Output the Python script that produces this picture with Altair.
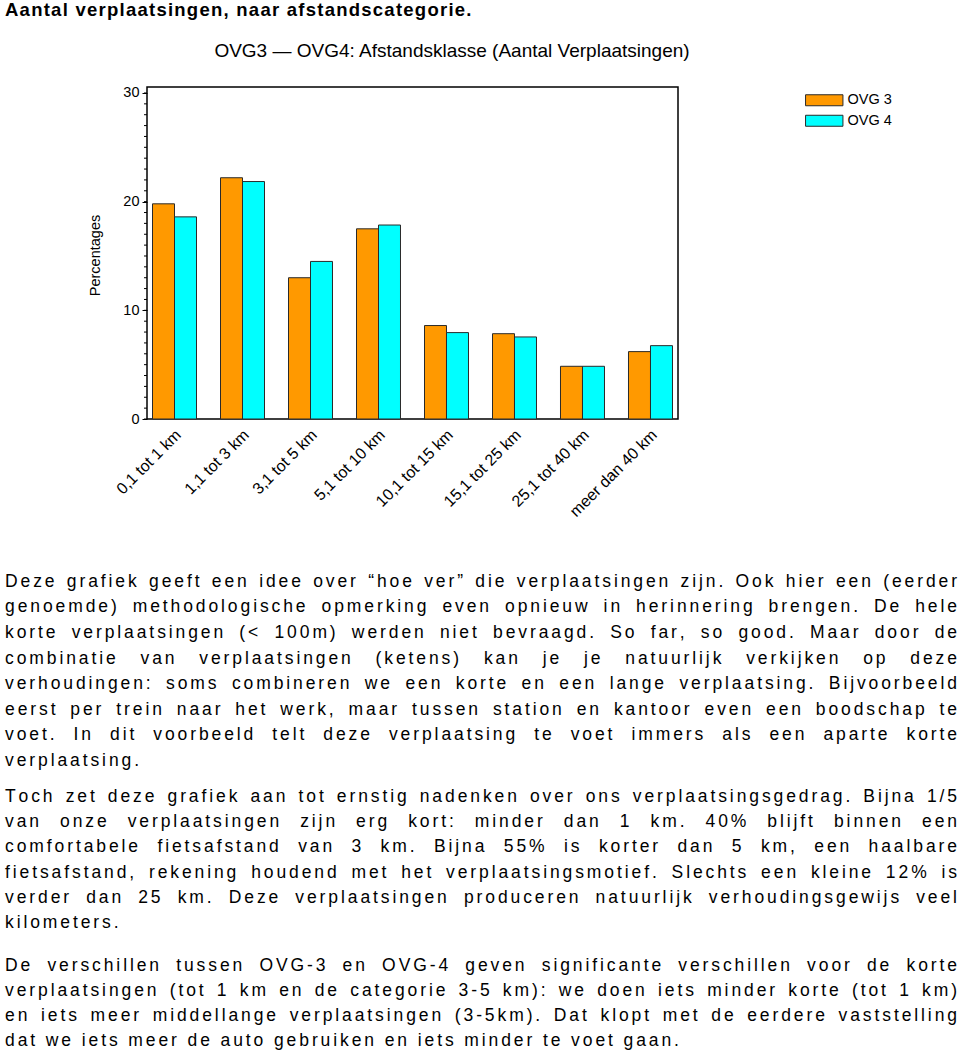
import altair as alt
import pandas as pd

# ---------------- data ----------------
categories = ["0,1 tot 1 km", "1,1 tot 3 km", "3,1 tot 5 km", "5,1 tot 10 km",
              "10,1 tot 15 km", "15,1 tot 25 km", "25,1 tot 40 km", "meer dan 40 km"]
ovg3 = [19.8, 22.2, 13.0, 17.5, 8.6, 7.85, 4.85, 6.2]
ovg4 = [18.6, 21.85, 14.5, 17.85, 7.95, 7.55, 4.85, 6.75]
series = ["OVG 3", "OVG 4"]
colors = ["#FF9900", "#00FFFF"]
y_ticks = [0, 10, 20, 30]
minor_ticks = list(range(0, 31))

heading = "Aantal verplaatsingen, naar afstandscategorie."
chart_title = "OVG3 \u2014 OVG4: Afstandsklasse (Aantal Verplaatsingen)"
y_title = "Percentages"

paragraph1 = [
    "Deze grafiek geeft een idee over \u201choe ver\u201d die verplaatsingen zijn. Ook hier een (eerder",
    "genoemde) methodologische opmerking even opnieuw in herinnering brengen. De hele",
    "korte verplaatsingen (< 100m) werden niet bevraagd. So far, so good. Maar door de",
    "combinatie van verplaatsingen (ketens) kan je je natuurlijk verkijken op deze",
    "verhoudingen: soms combineren we een korte en een lange verplaatsing. Bijvoorbeeld",
    "eerst per trein naar het werk, maar tussen station en kantoor even een boodschap te",
    "voet. In dit voorbeeld telt deze verplaatsing te voet immers als een aparte korte",
    "verplaatsing.",
]
paragraph2 = [
    "Toch zet deze grafiek aan tot ernstig nadenken over ons verplaatsingsgedrag. Bijna 1/5",
    "van onze verplaatsingen zijn erg kort: minder dan 1 km. 40% blijft binnen een",
    "comfortabele fietsafstand van 3 km. Bijna 55% is korter dan 5 km, een haalbare",
    "fietsafstand, rekening houdend met het verplaatsingsmotief. Slechts een kleine 12% is",
    "verder dan 25 km. Deze verplaatsingen produceren natuurlijk verhoudingsgewijs veel",
    "kilometers.",
]
paragraph3 = [
    "De verschillen tussen OVG-3 en OVG-4 geven significante verschillen voor de korte",
    "verplaatsingen (tot 1 km en de categorie 3-5 km): we doen iets minder korte (tot 1 km)",
    "en iets meer middellange verplaatsingen (3-5km). Dat klopt met de eerdere vaststelling",
    "dat we iets meer de auto gebruiken en iets minder te voet gaan.",
]

# ---------------- page geometry ----------------
PL, PT, PW, PH = 147, 87, 531, 332   # plot area on the page

# Arial / Liberation Sans advance widths (1/1000 em)
REG = {" ": 278, "!": 278, "\"": 355, "%": 889, "&": 667, "'": 191, "(": 333, ")": 333,
       ",": 278, "-": 333, ".": 278, "/": 278, ":": 278, ";": 278, "<": 584, "=": 584,
       ">": 584, "?": 556, "\u201c": 333, "\u201d": 333, "\u2014": 1000,
       "A": 667, "B": 667, "C": 722, "D": 722, "E": 667, "F": 611, "G": 778, "H": 722,
       "I": 278, "J": 500, "K": 667, "L": 556, "M": 833, "N": 722, "O": 778, "P": 667,
       "Q": 778, "R": 722, "S": 667, "T": 611, "U": 722, "V": 667, "W": 944, "X": 667,
       "Y": 667, "Z": 611,
       "a": 556, "b": 556, "c": 500, "d": 556, "e": 556, "f": 278, "g": 556, "h": 556,
       "i": 222, "j": 222, "k": 500, "l": 222, "m": 833, "n": 556, "o": 556, "p": 556,
       "q": 556, "r": 333, "s": 500, "t": 278, "u": 556, "v": 500, "w": 722, "x": 500,
       "y": 500, "z": 500}
BOLD = {" ": 278, ",": 278, ".": 278, "A": 722,
        "a": 556, "b": 611, "c": 556, "d": 611, "e": 556, "f": 333, "g": 611, "h": 611,
        "i": 278, "j": 278, "k": 556, "l": 278, "m": 889, "n": 611, "o": 611, "p": 611,
        "q": 611, "r": 389, "s": 556, "t": 333, "u": 611, "v": 556, "w": 778, "x": 556,
        "y": 556, "z": 500}


def layout(lines, first_baseline, spacing, fs, ls, table, x0=5, x1=957):
    rows = []
    for i, line in enumerate(lines):
        yb = first_baseline + i * spacing
        adv = [table.get(c, 556) / 1000 * fs for c in line]
        natural = sum(adv) + ls * (len(line) - 1)
        nsp = line.count(" ")
        last = i == len(lines) - 1
        extra = (x1 - x0 - natural) / nsp if (not last and nsp) else 0
        x = x0
        for c, a in zip(line, adv):
            if c != " ":
                rows.append({"px": x - PL, "py": yb - PT, "ch": c})
            x += a + ls + (extra if c == " " else 0)
    return rows


BODY_FS, BODY_LS = 17.5, 2.9
body_rows = (layout(paragraph1, 586.7, 25.6, BODY_FS, BODY_LS, REG)
             + layout(paragraph2, 801.7, 25.3, BODY_FS, BODY_LS, REG)
             + layout(paragraph3, 970.5, 25.3, BODY_FS, BODY_LS, REG))
head_rows = layout([heading], 16, 0, 18.5, 1.25, BOLD)

rows = []
for c, a, b in zip(categories, ovg3, ovg4):
    rows.append({"cat": c, "series": series[0], "value": a})
    rows.append({"cat": c, "series": series[1], "value": b})
df = pd.DataFrame(rows)

FONT = "Liberation Sans"

bars = alt.Chart(df).mark_bar(stroke="#2a2a2a", strokeWidth=1).encode(
    x=alt.X("cat:N", sort=categories,
            scale=alt.Scale(paddingInner=0.353, paddingOuter=0.081),
            axis=alt.Axis(title=None, labelAngle=315, labelAlign="right", labelBaseline="middle",
                          labelFont=FONT, labelFontSize=16, labelColor="black",
                          ticks=False, domain=False, labelPadding=13, labelOffset=4)),
    xOffset=alt.XOffset("series:N", sort=series),
    y=alt.Y("value:Q", scale=alt.Scale(domain=[0, 30.55], nice=False),
            axis=alt.Axis(values=y_ticks, title=y_title, titleFont=FONT, titleFontSize=14.5,
                          titleFontWeight="normal", titleColor="black", titleX=-52, titleY=168,
                          titleAngle=270, titleAlign="center", titleBaseline="middle",
                          labelFont=FONT, labelFontSize=14.5, labelColor="black",
                          tickSize=5, tickColor="black", domain=False, grid=False,
                          labelPadding=3)),
    color=alt.Color("series:N", scale=alt.Scale(domain=series, range=colors),
                    legend=alt.Legend(title=None, orient="none", legendX=670, legendY=6,
                                      symbolType="M-3.4,-1L3.4,-1L3.4,1L-3.4,1Z",
                                      symbolSize=121, symbolStrokeColor="#2a2a2a",
                                      symbolStrokeWidth=1, labelFont=FONT, labelFontSize=14.5,
                                      labelColor="black", labelOffset=16, rowPadding=4.5,
                                      padding=0)),
)

minor = alt.Chart(pd.DataFrame({"t": minor_ticks})).mark_rule(color="black", strokeWidth=1).encode(
    y="t:Q", x=alt.value(-3), x2=alt.value(0))

title_mark = alt.Chart(pd.DataFrame({"t": [chart_title]})).mark_text(
    font=FONT, fontSize=19, color="black", align="center", baseline="alphabetic").encode(
    text="t:N", x=alt.value(452 - PL), y=alt.value(57 - PT))

head_mark = alt.Chart(pd.DataFrame(head_rows)).mark_text(
    font=FONT, fontSize=18.5, fontWeight="bold", color="black", align="left",
    baseline="alphabetic").encode(
    x=alt.X("px:Q", scale=None, axis=None), y=alt.Y("py:Q", scale=None, axis=None), text="ch:N")

body_mark = alt.Chart(pd.DataFrame(body_rows)).mark_text(
    font=FONT, fontSize=BODY_FS, color="black", align="left", baseline="alphabetic").encode(
    x=alt.X("px:Q", scale=None, axis=None), y=alt.Y("py:Q", scale=None, axis=None), text="ch:N")

chart = alt.layer(bars, minor, title_mark, head_mark, body_mark).properties(
    width=PW, height=PH,
    background="white",
    autosize=alt.AutoSizeParams(type="none"),
    padding={"left": PL, "top": PT, "right": 960 - PL - PW, "bottom": 1053 - PT - PH},
).configure_view(stroke="black", strokeWidth=1.5)

chart.save("out.html", embed_options={"renderer": "svg", "actions": False})
